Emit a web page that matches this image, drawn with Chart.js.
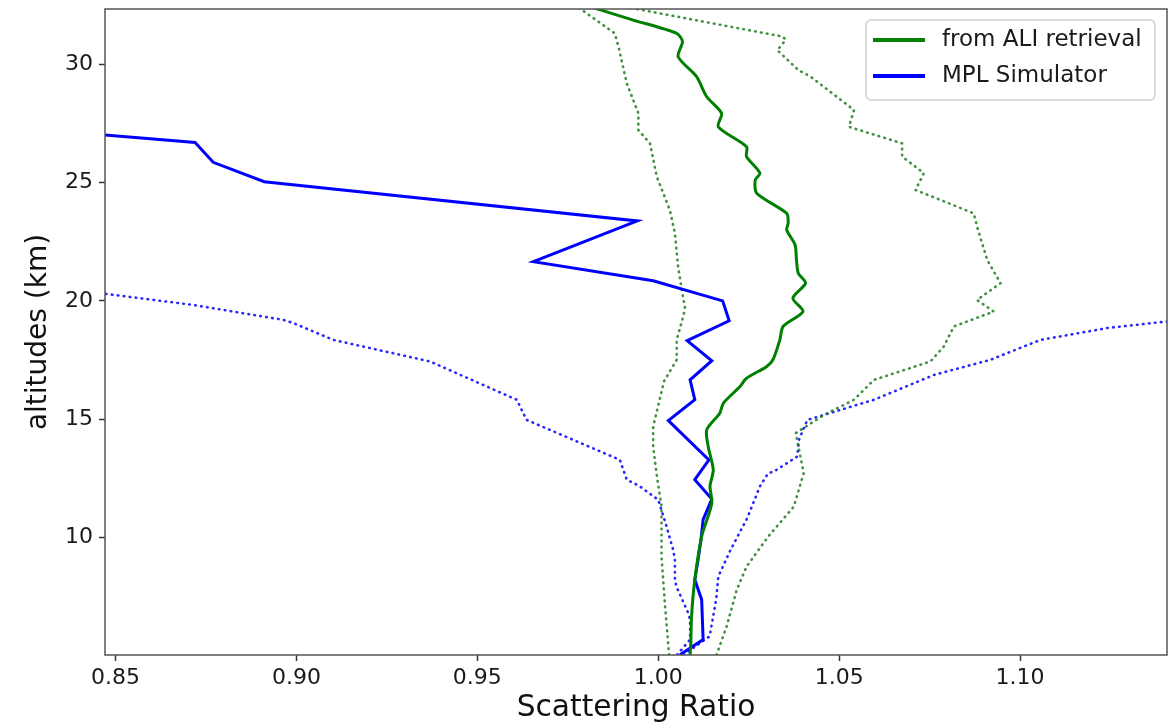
<!DOCTYPE html>
<html>
<head>
<meta charset="utf-8">
<script src="https://cdn.jsdelivr.net/npm/chart.js@4.4.0/dist/chart.umd.min.js"></script>
<style>
  html, body { margin: 0; padding: 0; background: #fff; }
  #wrap { width: 1174px; height: 726px; }
</style>
</head>
<body>
<div id="wrap"><canvas id="srChart" width="1174" height="726"></canvas></div>
<script>
// tick labels
const xTicks = [0.85, 0.90, 0.95, 1.00, 1.05, 1.10];
const yTicks = [10, 15, 20, 25, 30];

// MPL Simulator (solid blue)
const mplAlt = [5.04, 5.68, 6.52, 7.37, 8.21, 9.06, 9.90, 10.75, 11.62, 12.44, 13.28, 14.94, 15.82, 16.66, 17.47, 18.32, 19.16, 20.00, 20.85, 21.66, 23.38, 25.04, 25.86, 26.70, 27.54];
const mplSR = [1.0060, 1.0124, 1.0122, 1.0120, 1.0101, 1.0110, 1.0118, 1.0124, 1.0148, 1.0101, 1.0140, 1.0028, 1.0101, 1.0088, 1.0148, 1.0080, 1.0196, 1.0178, 0.9986, 0.9655, 0.9942, 0.8911, 0.8770, 0.8720, 0.8045];

// MPL Simulator lower / upper bound (dotted blue)
const mplLoAlt = [5.04, 5.68, 6.52, 6.80, 7.93, 8.21, 9.06, 9.48, 10.46, 11.59, 12.16, 12.44, 13.28, 14.97, 15.82, 17.44, 17.72, 18.35, 19.06, 19.20, 19.83, 20.30, 20.60];
const mplLoSR = [1.0052, 1.0088, 1.0088, 1.0083, 1.0050, 1.0046, 1.0046, 1.0041, 1.0023, 1.0000, 0.9949, 0.9913, 0.9894, 0.9636, 0.9609, 0.9369, 0.9287, 0.9102, 0.8992, 0.8963, 0.8714, 0.8471, 0.8200];
const mplHiAlt = [5.04, 5.82, 7.37, 8.35, 9.48, 10.82, 12.16, 12.72, 12.79, 13.42, 14.13, 14.97, 15.18, 15.82, 16.87, 17.51, 18.35, 18.85, 19.13, 19.40];
const mplHiSR = [1.0070, 1.0142, 1.0160, 1.0166, 1.0200, 1.0246, 1.0281, 1.0304, 1.0320, 1.0384, 1.0389, 1.0412, 1.0458, 1.0596, 1.0762, 1.0918, 1.1056, 1.1240, 1.1406, 1.1600];

// from ALI retrieval (solid green)
const aliAlt = [5.03, 5.54, 6.66, 8.21, 10.04, 11.45, 12.16, 12.86, 13.84, 14.55, 15.25, 15.68, 16.38, 16.73, 17.22, 17.51, 18.35, 18.92, 19.55, 20.11, 20.75, 21.17, 21.73, 22.37, 23.00, 23.28, 23.70, 24.55, 25.11, 25.40, 26.10, 26.52, 27.36, 27.93, 28.63, 29.48, 30.32, 30.96, 31.31, 31.87, 32.40];
const aliSR = [1.0088, 1.0090, 1.0092, 1.0101, 1.0120, 1.0148, 1.0143, 1.0152, 1.0138, 1.0134, 1.0170, 1.0180, 1.0226, 1.0244, 1.0299, 1.0317, 1.0336, 1.0345, 1.0400, 1.0372, 1.0407, 1.0387, 1.0382, 1.0378, 1.0355, 1.0359, 1.0355, 1.0272, 1.0268, 1.0281, 1.0244, 1.0244, 1.0166, 1.0175, 1.0134, 1.0106, 1.0055, 1.0067, 1.0051, 0.9931, 0.9820];

// ALI lower / upper bound (dotted green)
const aliLoAlt = [5.03, 7.08, 9.20, 11.31, 12.72, 13.84, 14.69, 16.60, 17.51, 18.35, 19.34, 19.69, 20.46, 21.45, 22.86, 23.84, 25.25, 26.66, 27.22, 27.93, 29.20, 30.75, 31.31, 32.40];
const aliLoSR = [1.0030, 1.0019, 1.0009, 1.0009, 0.9995, 0.9986, 0.9986, 1.0016, 1.0051, 1.0051, 1.0069, 1.0074, 1.0065, 1.0055, 1.0046, 1.0032, 0.9996, 0.9977, 0.9945, 0.9945, 0.9913, 0.9890, 0.9880, 0.9780];
const aliHiAlt = [5.03, 6.24, 7.79, 8.77, 10.04, 10.33, 11.31, 12.72, 14.41, 15.18, 15.82, 16.66, 17.44, 18.07, 18.92, 19.55, 20.04, 20.75, 21.73, 23.14, 23.70, 24.69, 25.40, 26.10, 26.66, 27.36, 28.07, 29.48, 29.76, 30.60, 31.03, 31.17, 32.40];
const aliHiSR = [1.0161, 1.0189, 1.0217, 1.0244, 1.0304, 1.0320, 1.0375, 1.0402, 1.0380, 1.0458, 1.0541, 1.0596, 1.0752, 1.0789, 1.0817, 1.0927, 1.0881, 1.0946, 1.0909, 1.0881, 1.0872, 1.0711, 1.0734, 1.0674, 1.0674, 1.0527, 1.0541, 1.0421, 1.0387, 1.0329, 1.0352, 1.0345, 0.9920];

const pts = (xs, ys) => xs.map((x, i) => ({ x: x, y: ys[i] }));

const FONT = "'DejaVu Sans', sans-serif";

// frame round the plot area
const framePlugin = {
    id: 'frame',
    afterDraw(chart) {
        const a = chart.chartArea, ctx = chart.ctx;
        ctx.save();
        ctx.strokeStyle = '#555';
        ctx.lineWidth = 1.5;
        ctx.strokeRect(a.left, a.top, a.right - a.left, a.bottom - a.top);
        ctx.restore();
    }
};

// matplotlib style legend in the upper right corner
const legendPlugin = {
    id: 'boxLegend',
    afterDraw(chart) {
        const a = chart.chartArea, ctx = chart.ctx;
        const items = chart.data.datasets.filter(d => !d.borderDash);
        const w = 289, h = 80;
        const x0 = a.right - 12 - w, y0 = a.top + 11;
        ctx.save();
        ctx.beginPath();
        ctx.roundRect(x0, y0, w, h, 5);
        ctx.fillStyle = 'rgba(255,255,255,0.85)';
        ctx.fill();
        ctx.strokeStyle = '#d0d0d0';
        ctx.lineWidth = 1.5;
        ctx.stroke();
        ctx.font = '23px ' + FONT;
        ctx.textBaseline = 'middle';
        items.forEach((d, i) => {
            const y = y0 + 20 + i * 36;
            ctx.beginPath();
            ctx.moveTo(x0 + 7, y);
            ctx.lineTo(x0 + 59, y);
            ctx.strokeStyle = d.borderColor;
            ctx.lineWidth = 4;
            ctx.stroke();
            ctx.fillStyle = '#1a1a1a';
            ctx.fillText(d.label, x0 + 76, y);
        });
        ctx.restore();
    }
};

const dotted = [0.6, 5.4];

const ctx = document.getElementById('srChart').getContext('2d');
const srChart = new Chart(ctx, {
    type: 'scatter',
    data: {
        datasets: [
            {
                label: 'from ALI retrieval',
                data: pts(aliSR, aliAlt),
                showLine: true, borderColor: '#008000', borderWidth: 3,
                pointRadius: 0, tension: 0.25
            },
            {
                label: 'MPL Simulator',
                data: pts(mplSR, mplAlt),
                showLine: true, borderColor: '#0000ff', borderWidth: 3,
                pointRadius: 0
            },
            {
                label: 'ALI low',
                data: pts(aliLoSR, aliLoAlt),
                showLine: true, borderColor: 'rgba(30,125,30,0.85)', borderWidth: 2.6,
                borderDash: dotted, borderCapStyle: 'round', pointRadius: 0
            },
            {
                label: 'ALI high',
                data: pts(aliHiSR, aliHiAlt),
                showLine: true, borderColor: 'rgba(30,125,30,0.85)', borderWidth: 2.6,
                borderDash: dotted, borderCapStyle: 'round', pointRadius: 0
            },
            {
                label: 'MPL low',
                data: pts(mplLoSR, mplLoAlt),
                showLine: true, borderColor: 'rgba(0,0,255,0.85)', borderWidth: 2.6,
                borderDash: dotted, borderCapStyle: 'round', pointRadius: 0
            },
            {
                label: 'MPL high',
                data: pts(mplHiSR, mplHiAlt),
                showLine: true, borderColor: 'rgba(0,0,255,0.85)', borderWidth: 2.6,
                borderDash: dotted, borderCapStyle: 'round', pointRadius: 0
            }
        ]
    },
    options: {
        responsive: false,
        animation: false,
        layout: { padding: { left: 0, top: 9, right: 7, bottom: 0 } },
        plugins: { legend: { display: false }, tooltip: { enabled: false } },
        scales: {
            x: {
                type: 'linear',
                min: 0.8471,
                max: 1.1406,
                afterBuildTicks: s => { s.ticks = xTicks.map(v => ({ value: v })); },
                afterFit: s => { s.height = 71; s.paddingLeft = 0; s.paddingRight = 0; },
                border: { display: false },
                grid: { drawOnChartArea: false, drawTicks: true, tickLength: 6, tickColor: '#333', tickWidth: 1.5 },
                ticks: {
                    callback: v => v.toFixed(2),
                    color: '#1a1a1a', padding: 4, maxRotation: 0,
                    font: { family: FONT, size: 22 }
                },
                title: {
                    display: true, text: 'Scattering Ratio', color: '#111',
                    font: { family: FONT, size: 29.7 }, padding: { top: 0, bottom: 0 }
                }
            },
            y: {
                type: 'linear',
                min: 5.03,
                max: 32.34,
                afterBuildTicks: s => { s.ticks = yTicks.map(v => ({ value: v })); },
                afterFit: s => { s.width = 105; s.paddingTop = 0; s.paddingBottom = 0; },
                border: { display: false },
                grid: { drawOnChartArea: false, drawTicks: true, tickLength: 6, tickColor: '#333', tickWidth: 1.5 },
                ticks: {
                    callback: v => String(v),
                    color: '#1a1a1a', padding: 6,
                    font: { family: FONT, size: 22 }
                },
                title: {
                    display: true, text: 'altitudes (km)', color: '#111',
                    font: { family: FONT, size: 28 }, padding: { top: 22, bottom: 0 }
                }
            }
        }
    },
    plugins: [framePlugin, legendPlugin]
});
</script>
</body>
</html>
